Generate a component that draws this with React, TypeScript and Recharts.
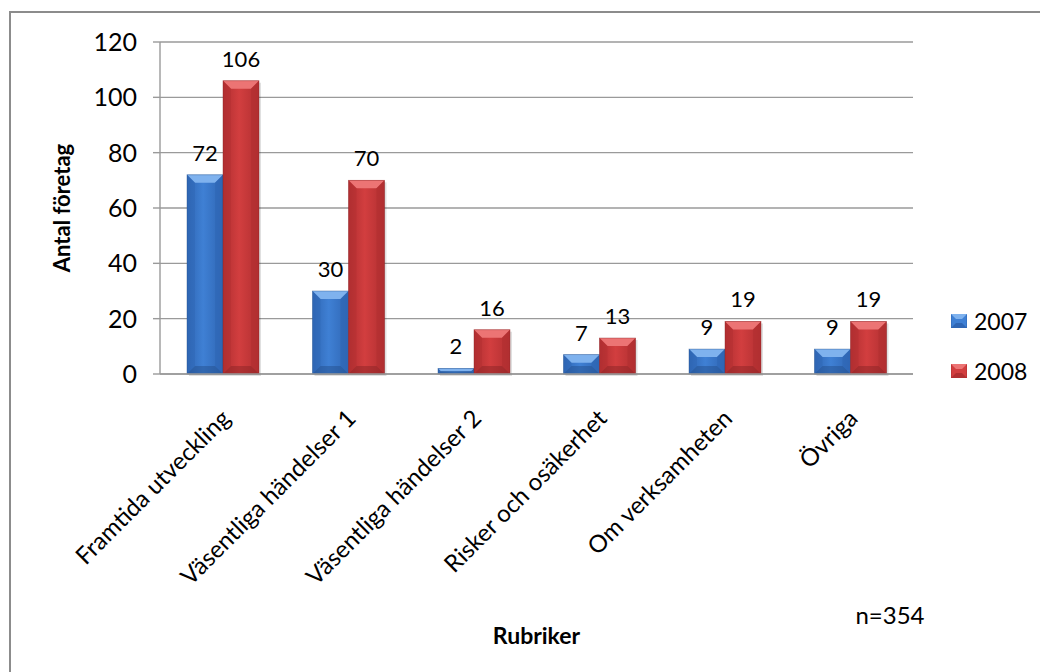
import { BarChart, Bar, XAxis, YAxis, CartesianGrid, LabelList } from 'recharts'

const categories = [
  'Framtida utveckling',
  'Väsentliga händelser 1',
  'Väsentliga händelser 2',
  'Risker och osäkerhet',
  'Om verksamheten',
  'Övriga',
]
const values2007 = [72, 30, 2, 7, 9, 9]
const values2008 = [106, 70, 16, 13, 19, 19]
const yTicks = [0, 20, 40, 60, 80, 100, 120]

const data = categories.map((name, i) => ({
  name,
  '2007': values2007[i],
  '2008': values2008[i],
}))

const FONT = 'Lato, "Open Sans", sans-serif'

// colour sets for the bevelled bars: [top, body, side, bottom]
const palettes: Record<string, string[]> = {
  blue: ['#7fb2ee', '#3f80d4', '#2f66b4', '#244f8e'],
  red: ['#ec7474', '#d23e3f', '#b12f31', '#8c2426'],
}

function BevelBar(props: any) {
  const { x, y, width, height, tone } = props
  if (!height || height <= 0) return null
  const [top, body, side, bottom] = palettes[tone]
  const b = Math.min(8, width / 2, height / 2)
  const gid = `g-${tone}`
  return (
    <g>
      <rect x={x + 2} y={y + 2} width={width} height={height} fill="rgba(0,0,0,0.12)" />
      <rect x={x} y={y} width={width} height={height} fill={`url(#${gid})`} />
      <polygon points={`${x},${y} ${x + width},${y} ${x + width - b},${y + b} ${x + b},${y + b}`} fill={top} />
      <polygon points={`${x},${y} ${x + b},${y + b} ${x + b},${y + height - b} ${x},${y + height}`} fill={side} opacity={0.45} />
      <polygon points={`${x + width},${y} ${x + width - b},${y + b} ${x + width - b},${y + height - b} ${x + width},${y + height}`} fill={side} opacity={0.6} />
      <polygon points={`${x},${y + height} ${x + b},${y + height - b} ${x + width - b},${y + height - b} ${x + width},${y + height}`} fill={bottom} opacity={0.5} />
      <rect x={x} y={y} width={width} height={height} fill="none" stroke={bottom} strokeOpacity={0.5} strokeWidth={0.8} />
      <defs>
        <linearGradient id={gid} x1="0" y1="0" x2="1" y2="0">
          <stop offset="0%" stopColor={side} />
          <stop offset="45%" stopColor={body} />
          <stop offset="100%" stopColor={side} />
        </linearGradient>
      </defs>
    </g>
  )
}

function RotatedTick({ x, y, payload }: any) {
  const ax = x + 9
  const ay = y + 38
  return (
    <text
      x={ax}
      y={ay}
      transform={`rotate(-45, ${ax}, ${ay})`}
      textAnchor="end"
      fontSize={24}
      fontFamily={FONT}
      fill="#000"
    >
      {payload.value}
    </text>
  )
}

function LegendBox() {
  const items = [
    { label: '2007', tone: 'blue' },
    { label: '2008', tone: 'red' },
  ]
  return (
    <div style={{ position: 'absolute', left: 951, top: 296, fontFamily: FONT, fontSize: 23, color: '#000' }}>
      {items.map((it) => {
        const [top, body, side] = palettes[it.tone]
        return (
          <div key={it.label} style={{ display: 'flex', alignItems: 'center', height: 50 }}>
            <svg width={16} height={14} style={{ marginRight: 7 }}>
              <rect x={0} y={0} width={16} height={14} fill={body} stroke={side} />
              <polygon points="0,0 16,0 11,5 5,5" fill={top} />
              <polygon points="0,14 16,14 11,9 5,9" fill={side} />
            </svg>
            <span>{it.label}</span>
          </div>
        )
      })}
    </div>
  )
}

export default function App() {
  return (
    <div style={{ position: 'relative', width: 1040, height: 672, overflow: 'hidden', background: '#fff' }}>
      <style>{'body { margin: 0; }'}</style>
      <div
        style={{
          position: 'absolute',
          left: 9,
          top: 11,
          width: 1100,
          height: 720,
          borderLeft: '2px solid #8c8c8c',
          borderTop: '2px solid #8c8c8c',
        }}
      />
      <BarChart
        width={1040}
        height={672}
        data={data}
        margin={{ top: 42, right: 127, bottom: 0, left: 0 }}
        barGap={0}
        barSize={36}
        style={{ position: 'absolute', left: 0, top: 0 }}
      >
        <CartesianGrid vertical={false} stroke="#9a9a9a" strokeWidth={1.4} />
        <XAxis
          dataKey="name"
          height={298}
          interval={0}
          tickLine={false}
          axisLine={{ stroke: '#9a9a9a', strokeWidth: 1.4 }}
          tick={<RotatedTick />}
          label={{
            value: 'Rubriker',
            position: 'insideBottom',
            offset: 28,
            fontSize: 23,
            fontWeight: 700,
            fontFamily: FONT,
            fill: '#000',
          }}
        />
        <YAxis
          width={160}
          domain={[0, 120]}
          ticks={yTicks}
          tickSize={7}
          tickMargin={16}
          tickLine={{ stroke: '#9a9a9a', strokeWidth: 1.4 }}
          axisLine={{ stroke: '#9a9a9a', strokeWidth: 1.4 }}
          tick={{ fontSize: 25, fontFamily: FONT, fill: '#000' }}
          label={{
            value: 'Antal företag',
            angle: -90,
            position: 'insideLeft',
            offset: 0,
            dx: 62,
            fontSize: 22,
            fontWeight: 700,
            fontFamily: FONT,
            fill: '#000',
            style: { textAnchor: 'middle' },
          }}
        />
        <Bar dataKey="2007" isAnimationActive={false} shape={(p: any) => <BevelBar {...p} tone="blue" />}>
          <LabelList dataKey="2007" position="top" offset={14} fontSize={22} fontFamily={FONT} fill="#000" />
        </Bar>
        <Bar dataKey="2008" isAnimationActive={false} shape={(p: any) => <BevelBar {...p} tone="red" />}>
          <LabelList dataKey="2008" position="top" offset={14} fontSize={22} fontFamily={FONT} fill="#000" />
        </Bar>
        <text x={890} y={624} textAnchor="middle" fontSize={24} fontFamily={FONT} fill="#000">
          n=354
        </text>
      </BarChart>
      <LegendBox />
    </div>
  )
}
